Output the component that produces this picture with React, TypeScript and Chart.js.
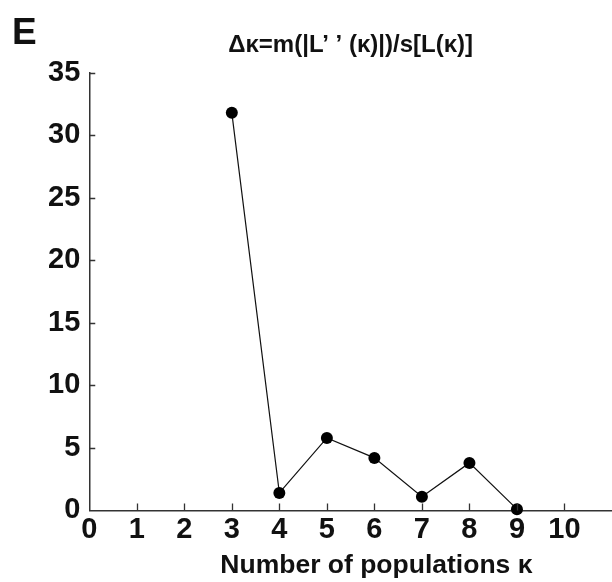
import React, { useEffect, useRef } from "react";
import { Chart, registerables } from "chart.js";

Chart.register(...registerables);

const kValues = [3, 4, 5, 6, 7, 8, 9];
const deltaK = [31.8, 1.4, 5.8, 4.2, 1.1, 3.8, 0.1];
const titleText = "Δκ=m(|L’ ’ (κ)|)/s[L(κ)]";
const xTitle = "       Number of populations κ";
const panelLetter = "E";
const yTickValues = [0, 5, 10, 15, 20, 25, 30, 35];
const xTickValues = [0, 1, 2, 3, 4, 5, 6, 7, 8, 9, 10];

const FONT = "'Liberation Sans', Arial, Helvetica, sans-serif";
const AXIS_COLOR = "#333333";

const inwardTicks = {
  id: "inwardTicks",
  afterDraw(chart: any) {
    const { ctx, chartArea, scales } = chart;
    ctx.save();
    ctx.strokeStyle = AXIS_COLOR;
    ctx.lineWidth = 1.3;
    ctx.beginPath();
    xTickValues.forEach((v) => {
      if (v === 0) return;
      const px = Math.round(scales.x.getPixelForValue(v)) + 0.5;
      ctx.moveTo(px, chartArea.bottom);
      ctx.lineTo(px, chartArea.bottom - 7);
    });
    yTickValues.forEach((v) => {
      if (v === 0) return;
      const py = Math.round(scales.y.getPixelForValue(v)) + 0.5;
      ctx.moveTo(chartArea.left, py);
      ctx.lineTo(chartArea.left + 6, py);
    });
    ctx.stroke();
    ctx.restore();
  },
};

export default function App() {
  const canvasRef = useRef<HTMLCanvasElement | null>(null);

  useEffect(() => {
    if (!canvasRef.current) return;
    const chart = new Chart(canvasRef.current, {
      type: "line",
      data: {
        datasets: [
          {
            data: kValues.map((k, i) => ({ x: k, y: deltaK[i] })),
            borderColor: "#111111",
            borderWidth: 1.2,
            backgroundColor: "#000000",
            pointBackgroundColor: "#000000",
            pointBorderColor: "#000000",
            pointRadius: 6,
            pointBorderWidth: 0,
            tension: 0,
            clip: false as any,
          },
        ],
      },
      options: {
        animation: false,
        responsive: false,
        devicePixelRatio: 1,
        layout: { autoPadding: false, padding: { left: 39, right: 0, top: 0, bottom: 0 } },
        plugins: {
          legend: { display: false },
          tooltip: { enabled: false },
          title: {
            display: true,
            fullSize: false,
            text: titleText,
            color: "#111111",
            font: { family: FONT, size: 24, weight: "bold", lineHeight: 1.2 },
            padding: { top: 31, bottom: 13 },
          },
        },
        scales: {
          x: {
            type: "linear",
            min: 0,
            max: 11,
            afterFit: (scale: any) => {
              scale.paddingRight = 0;
            },
            grid: { display: true, drawOnChartArea: false, drawTicks: false },
            border: { display: true, color: AXIS_COLOR, width: 1.5 },
            ticks: {
              stepSize: 1,
              autoSkip: false,
              padding: 2,
              maxRotation: 0,
              color: "#111111",
              font: { family: FONT, size: 29, weight: "bold", lineHeight: 1.2 },
              callback: (v: any) => (xTickValues.includes(Number(v)) ? String(v) : ""),
            },
            title: {
              display: true,
              text: xTitle,
              color: "#111111",
              font: { family: FONT, size: 26.5, weight: "bold", lineHeight: 1.2 },
              padding: { top: 1, bottom: 0 },
            },
          },
          y: {
            type: "linear",
            min: 0,
            max: 35,
            grid: { display: true, drawOnChartArea: false, drawTicks: false },
            border: { display: true, color: AXIS_COLOR, width: 1.5 },
            ticks: {
              stepSize: 5,
              padding: 9,
              color: "#111111",
              font: { family: FONT, size: 29, weight: "bold", lineHeight: 1.2 },
            },
          },
        },
      },
      plugins: [inwardTicks],
    });
    return () => chart.destroy();
  }, []);

  return (
    <div style={{ position: "absolute", left: 0, top: 0, width: 612, height: 582, background: "#ffffff" }}>
      <canvas ref={canvasRef} width={612} height={582} style={{ display: "block" }} />
      <div
        style={{
          position: "absolute",
          left: 12,
          top: 13,
          fontFamily: FONT,
          fontWeight: "bold",
          fontSize: 37,
          lineHeight: 1,
          color: "#111111",
        }}
      >
        {panelLetter}
      </div>
    </div>
  );
}
